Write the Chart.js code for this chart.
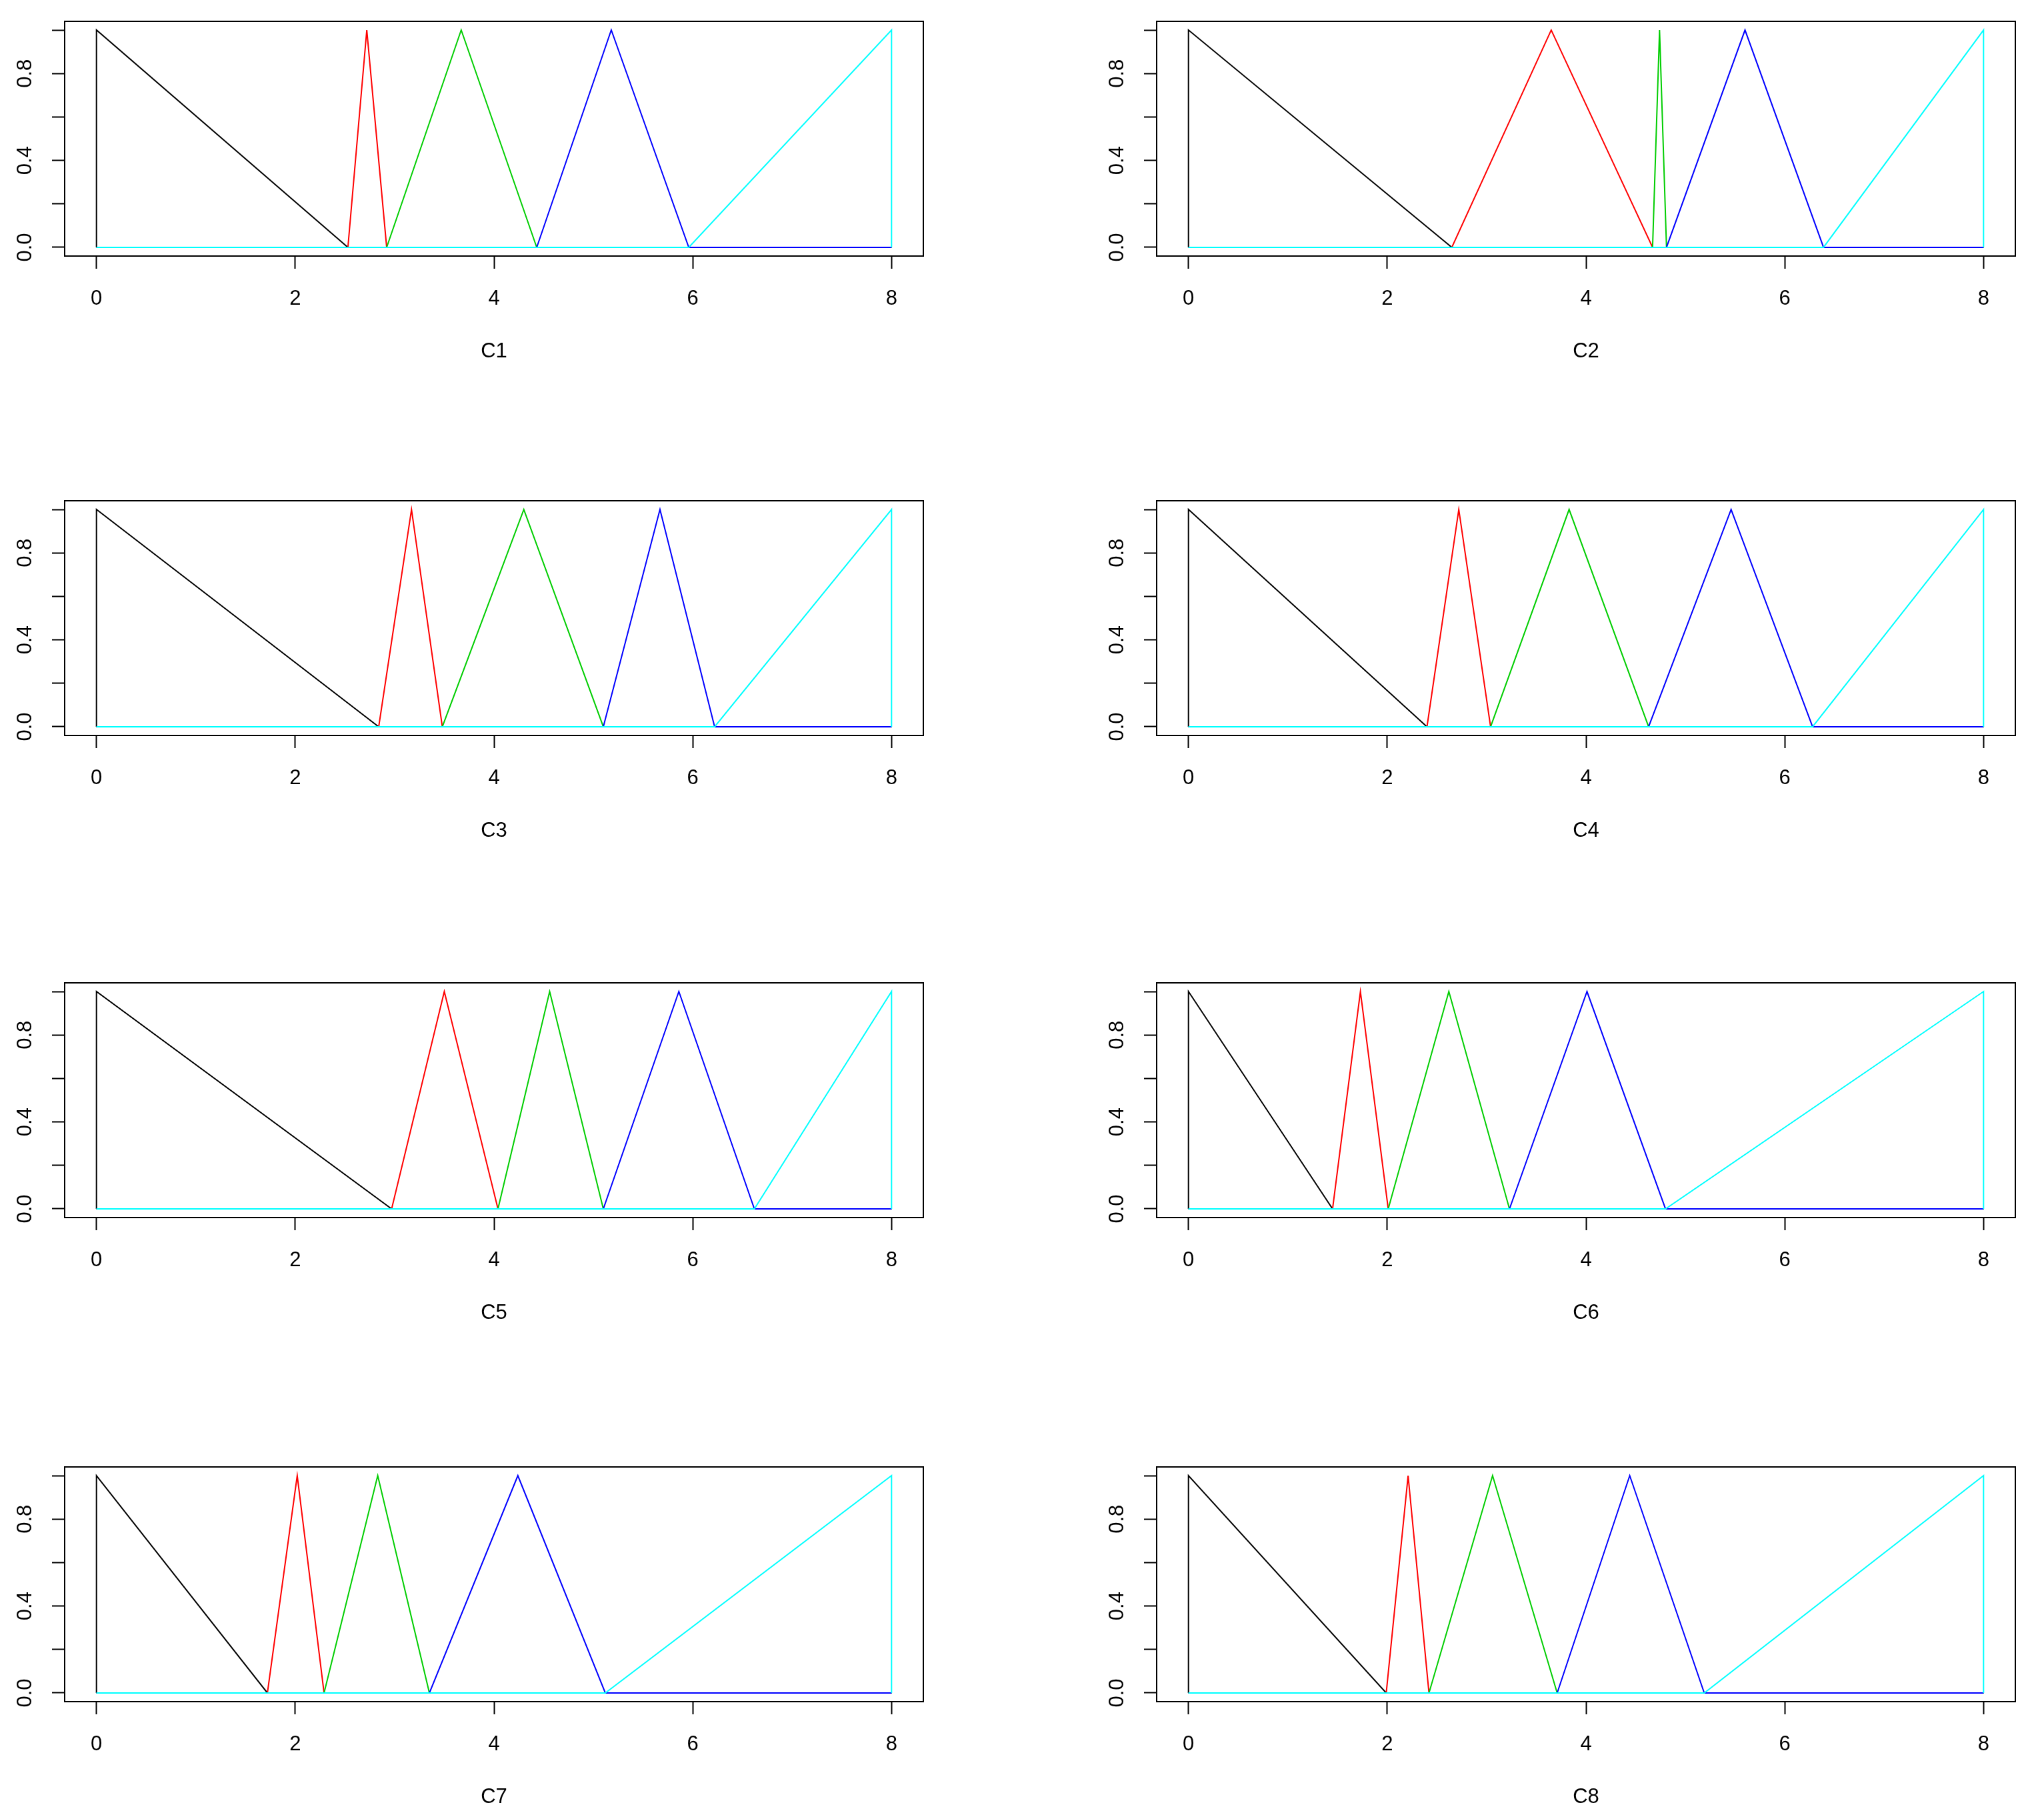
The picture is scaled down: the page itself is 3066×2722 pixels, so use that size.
<!DOCTYPE html>
<html>
<head>
<meta charset="utf-8">
<script src="https://cdn.jsdelivr.net/npm/chart.js@4.4.1/dist/chart.umd.min.js"></script>
<style>
  html, body { margin: 0; padding: 0; background: #fff; }
  body { width: 3066px; height: 2722px; position: relative; overflow: hidden; }
  canvas { position: absolute; }
</style>
</head>
<body>
<script>
// breakpoints of the five membership functions:
// [black end, red peak, red end, green peak, green end, blue peak, blue end]
const panelNames = ['C1', 'C2', 'C3', 'C4', 'C5', 'C6', 'C7', 'C8'];
const C1 = [2.53, 2.72, 2.92, 3.67, 4.43, 5.18, 5.96];
const C2 = [2.65, 3.65, 4.67, 4.74, 4.81, 5.60, 6.39];
const C3 = [2.84, 3.17, 3.48, 4.30, 5.10, 5.67, 6.22];
const C4 = [2.40, 2.72, 3.04, 3.83, 4.63, 5.46, 6.28];
const C5 = [2.97, 3.50, 4.04, 4.56, 5.10, 5.86, 6.62];
const C6 = [1.45, 1.73, 2.01, 2.62, 3.23, 4.01, 4.80];
const C7 = [1.72, 2.02, 2.29, 2.83, 3.35, 4.24, 5.12];
const C8 = [1.99, 2.21, 2.42, 3.06, 3.71, 4.44, 5.19];
const panelBreaks = [C1, C2, C3, C4, C5, C6, C7, C8];

const xMin = 0, xMax = 8;
const xTicks = [0, 2, 4, 6, 8];
const yTicks = [0, 0.2, 0.4, 0.6, 0.8, 1];
const yLabelled = [0, 0.4, 0.8];
const seriesColors = ['#000000', '#ff0000', '#00cd00', '#0000ff', '#00ffff'];

// page layout (px)
const colLeft = [97, 1735];
const rowTop = [32, 751, 1474, 2200];
const boxW = 1288, boxH = 352;
const padL = 95, padT = 40, padR = 10, padB = 175;
const fontFamily = '"Liberation Sans", Arial, sans-serif';

function curves(b) {
  return [
    [[xMin, 0], [xMin, 1], [b[0], 0], [xMax, 0]],
    [[xMin, 0], [b[0], 0], [b[1], 1], [b[2], 0], [xMax, 0]],
    [[xMin, 0], [b[2], 0], [b[3], 1], [b[4], 0], [xMax, 0]],
    [[xMin, 0], [b[4], 0], [b[5], 1], [b[6], 0], [xMax, 0]],
    [[xMin, 0], [b[6], 0], [xMax, 1], [xMax, 0]]
  ];
}

// R style box around the plot region
const framePlugin = {
  id: 'frame',
  beforeDatasetsDraw(chart) {
    const { ctx, chartArea: a } = chart;
    ctx.save();
    ctx.strokeStyle = '#000';
    ctx.lineWidth = 2;
    ctx.strokeRect(a.left, a.top, a.right - a.left, a.bottom - a.top);
    ctx.restore();
  }
};

const xr = 0.04 * (xMax - xMin);

panelNames.forEach((name, p) => {
  const col = p % 2, row = Math.floor(p / 2);
  const cv = document.createElement('canvas');
  cv.width = padL + boxW + padR;
  cv.height = padT + boxH + padB;
  cv.style.left = (colLeft[col] - padL) + 'px';
  cv.style.top = (rowTop[row] - padT) + 'px';
  document.body.appendChild(cv);

  const datasets = curves(panelBreaks[p]).map((pts, i) => ({
    data: pts.map(([x, y]) => ({ x, y })),
    borderColor: seriesColors[i],
    borderWidth: 2,
    pointRadius: 0,
    tension: 0,
    fill: false,
    order: 5 - i
  }));

  new Chart(cv, {
    type: 'line',
    data: { datasets },
    options: {
      responsive: false,
      animation: false,
      layout: { padding: { left: 0, top: padT, right: padR, bottom: 0 } },
      plugins: { legend: { display: false }, tooltip: { enabled: false } },
      scales: {
        x: {
          type: 'linear',
          min: xMin - xr,
          max: xMax + xr,
          afterBuildTicks: s => { s.ticks = xTicks.map(v => ({ value: v })); },
          afterFit: s => { s.height = padB; },
          border: { display: false },
          grid: { drawOnChartArea: false, drawTicks: true, tickLength: 19, tickWidth: 2, tickColor: '#000' },
          ticks: {
            autoSkip: false, maxRotation: 0, padding: 27, color: '#000',
            font: { family: fontFamily, size: 31 },
            callback: v => String(v)
          },
          title: {
            display: true, text: name, color: '#000',
            font: { family: fontFamily, size: 31 },
            padding: { top: 0, bottom: 13 }
          }
        },
        y: {
          type: 'linear',
          min: -0.04,
          max: 1.04,
          afterBuildTicks: s => { s.ticks = yTicks.map(v => ({ value: v })); },
          afterFit: s => { s.width = padL; },
          border: { display: false },
          grid: { drawOnChartArea: false, drawTicks: true, tickLength: 19, tickWidth: 2, tickColor: '#000' },
          ticks: {
            autoSkip: false, minRotation: 90, maxRotation: 90, crossAlign: 'center',
            padding: 17.5, color: '#000',
            font: { family: fontFamily, size: 31 },
            callback: v => yLabelled.includes(v) ? v.toFixed(1) : ''
          }
        }
      }
    },
    plugins: [framePlugin]
  });
});
</script>
</body>
</html>
